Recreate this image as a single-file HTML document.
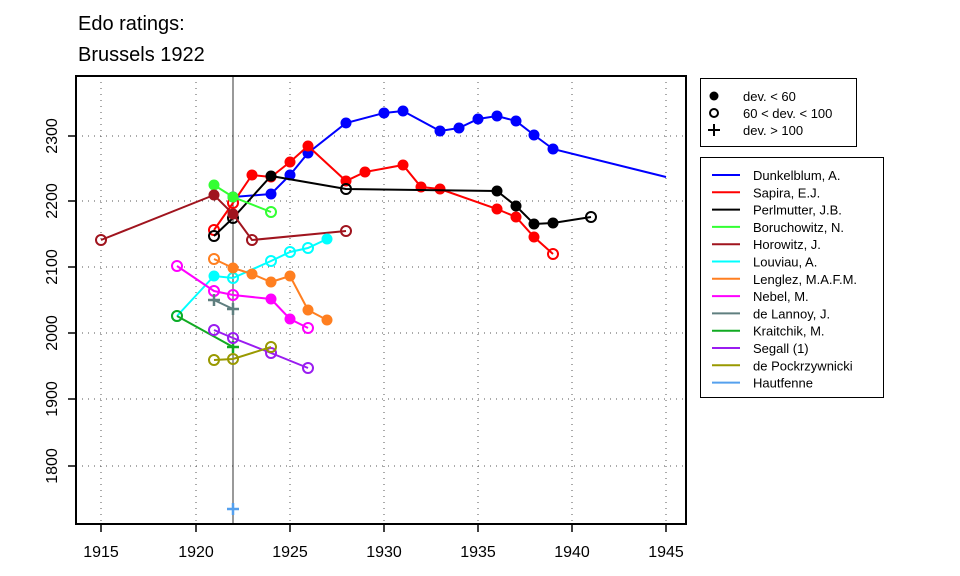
<!DOCTYPE html>
<html><head><meta charset="utf-8"><style>
body{margin:0;background:#fff}
svg{display:block;font-family:"Liberation Sans",Arial,sans-serif}
</style></head><body>
<svg id="s" width="960" height="576" viewBox="0 0 960 576" xmlns="http://www.w3.org/2000/svg">
<rect width="960" height="576" fill="#fff"/>
<text x="78" y="30" font-size="20">Edo ratings:</text>
<text x="78" y="61" font-size="20">Brussels 1922</text>
<g stroke="#555" stroke-width="1" stroke-dasharray="1,5">
<line x1="101" y1="76" x2="101" y2="524"/><line x1="196" y1="76" x2="196" y2="524"/><line x1="290" y1="76" x2="290" y2="524"/><line x1="384" y1="76" x2="384" y2="524"/><line x1="478" y1="76" x2="478" y2="524"/><line x1="572" y1="76" x2="572" y2="524"/><line x1="666" y1="76" x2="666" y2="524"/>
<line x1="76" y1="136" x2="686" y2="136"/><line x1="76" y1="201" x2="686" y2="201"/><line x1="76" y1="267" x2="686" y2="267"/><line x1="76" y1="333" x2="686" y2="333"/><line x1="76" y1="399" x2="686" y2="399"/><line x1="76" y1="466" x2="686" y2="466"/>
</g>
<line x1="233" y1="76" x2="233" y2="524" stroke="#333" stroke-width="1"/>
<g id="series" stroke-width="2" fill="none"></g>
<rect x="76" y="76" width="610" height="448" fill="none" stroke="#000" stroke-width="2"/>
<g stroke="#000" stroke-width="1.5">
<line x1="101" y1="524" x2="101" y2="532"/><line x1="196" y1="524" x2="196" y2="532"/><line x1="290" y1="524" x2="290" y2="532"/><line x1="384" y1="524" x2="384" y2="532"/><line x1="478" y1="524" x2="478" y2="532"/><line x1="572" y1="524" x2="572" y2="532"/><line x1="666" y1="524" x2="666" y2="532"/>
<line x1="68" y1="136" x2="76" y2="136"/><line x1="68" y1="201" x2="76" y2="201"/><line x1="68" y1="267" x2="76" y2="267"/><line x1="68" y1="333" x2="76" y2="333"/><line x1="68" y1="399" x2="76" y2="399"/><line x1="68" y1="466" x2="76" y2="466"/>
</g>
<g font-size="16" text-anchor="middle">
<text x="101" y="557">1915</text><text x="196" y="557">1920</text><text x="290" y="557">1925</text><text x="384" y="557">1930</text><text x="478" y="557">1935</text><text x="572" y="557">1940</text><text x="666" y="557">1945</text>
<text transform="translate(57,136) rotate(-90)">2300</text>
<text transform="translate(57,201) rotate(-90)">2200</text>
<text transform="translate(57,267) rotate(-90)">2100</text>
<text transform="translate(57,333) rotate(-90)">2000</text>
<text transform="translate(57,399) rotate(-90)">1900</text>
<text transform="translate(57,466) rotate(-90)">1800</text>
</g>
<rect x="700.5" y="78.5" width="156" height="68" fill="#fff" stroke="#000"/>
<circle cx="714" cy="96" r="4.5" fill="#000"/>
<circle cx="714" cy="113" r="4" fill="none" stroke="#000" stroke-width="2"/>
<path d="M708 130h12M714 124v12" stroke="#000" stroke-width="2"/>
<g font-size="13"><text x="743" y="101">dev. &lt; 60</text><text x="743" y="118">60 &lt; dev. &lt; 100</text><text x="743" y="135">dev. &gt; 100</text></g>
<rect x="700.5" y="157.5" width="183" height="240" fill="#fff" stroke="#000"/>
<g stroke-width="2">
<line x1="712" x2="740" y1="175" y2="175" stroke="#0000ff"/>
<line x1="712" x2="740" y1="192.3" y2="192.3" stroke="#ff0000"/>
<line x1="712" x2="740" y1="209.6" y2="209.6" stroke="#000"/>
<line x1="712" x2="740" y1="226.9" y2="226.9" stroke="#33ff33"/>
<line x1="712" x2="740" y1="244.2" y2="244.2" stroke="#a0141e"/>
<line x1="712" x2="740" y1="261.5" y2="261.5" stroke="#00ffff"/>
<line x1="712" x2="740" y1="278.8" y2="278.8" stroke="#ff7f20"/>
<line x1="712" x2="740" y1="296.1" y2="296.1" stroke="#ff00ff"/>
<line x1="712" x2="740" y1="313.4" y2="313.4" stroke="#5f7f7f"/>
<line x1="712" x2="740" y1="330.7" y2="330.7" stroke="#11aa22"/>
<line x1="712" x2="740" y1="348" y2="348" stroke="#9a1cf0"/>
<line x1="712" x2="740" y1="365.3" y2="365.3" stroke="#999900"/>
<line x1="712" x2="740" y1="382.6" y2="382.6" stroke="#55a0ee"/>
</g>
<g font-size="13">
<text x="753" y="180">Dunkelblum, A.</text>
<text x="753" y="197.3">Sapira, E.J.</text>
<text x="753" y="214.6">Perlmutter, J.B.</text>
<text x="753" y="231.9">Boruchowitz, N.</text>
<text x="753" y="249.2">Horowitz, J.</text>
<text x="753" y="266.5">Louviau, A.</text>
<text x="753" y="283.8">Lenglez, M.A.F.M.</text>
<text x="753" y="301.1">Nebel, M.</text>
<text x="753" y="318.4">de Lannoy, J.</text>
<text x="753" y="335.7">Kraitchik, M.</text>
<text x="753" y="353">Segall (1)</text>
<text x="753" y="370.3">de Pockrzywnicki</text>
<text x="753" y="387.6">Hautfenne</text>
</g>
</svg>
<script>
var S=[
["#0000ff",[[233,197,'f'],[271,194,'f'],[290,175,'f'],[308,153,'f'],[346,123,'f'],[384,113,'f'],[403,111,'f'],[440,131,'f'],[459,128,'f'],[478,119,'f'],[497,116,'f'],[516,121,'f'],[534,135,'f'],[553,149,'f'],[666,177,'n']]],
["#ff0000",[[214,230,'o'],[233,203,'o'],[252,175,'f'],[271,177,'f'],[290,162,'f'],[308,146,'f'],[346,181,'f'],[365,172,'f'],[403,165,'f'],[421,187,'f'],[440,189,'f'],[497,209,'f'],[516,217,'f'],[534,237,'f'],[553,254,'o']]],
["#000000",[[214,236,'o'],[233,218,'o'],[271,176,'f'],[346,189,'o'],[497,191,'f'],[516,206,'f'],[534,224,'f'],[553,223,'f'],[591,217,'o']]],
["#33ff33",[[214,185,'f'],[233,197,'f'],[271,212,'o']]],
["#a0141e",[[101,240,'o'],[214,195,'f'],[233,214,'f'],[252,240,'o'],[346,231,'o']]],
["#00ffff",[[177,316,'o'],[214,276,'f'],[233,278,'o'],[271,261,'o'],[290,252,'o'],[308,248,'o'],[327,239,'f']]],
["#ff7f20",[[214,259,'o'],[233,268,'f'],[252,274,'f'],[271,282,'f'],[290,276,'f'],[308,310,'f'],[327,320,'f']]],
["#ff00ff",[[177,266,'o'],[214,291,'o'],[233,295,'o'],[271,299,'f'],[290,319,'f'],[308,328,'o']]],
["#5f7f7f",[[214,300,'p'],[233,309,'p']]],
["#11aa22",[[177,316,'o'],[233,347,'p']]],
["#9a1cf0",[[214,330,'o'],[233,338,'o'],[271,353,'o'],[308,368,'o']]],
["#999900",[[214,360,'o'],[233,359,'o'],[271,347,'o']]],
["#55a0ee",[[233,509,'p']]]
];
var g=document.getElementById('series'),h='';
S.forEach(function(s){var c=s[0],p=s[1];
if(p.length>1)h+='<polyline stroke="'+c+'" points="'+p.map(function(q){return q[0]+','+q[1]}).join(' ')+'"/>';
p.forEach(function(q){if(q[2]=='f')h+='<circle cx="'+q[0]+'" cy="'+q[1]+'" r="5.5" fill="'+c+'"/>';
else if(q[2]=='o')h+='<circle cx="'+q[0]+'" cy="'+q[1]+'" r="5" fill="none" stroke="'+c+'"/>';
else if(q[2]=='p')h+='<path d="M'+(q[0]-6)+' '+q[1]+'h12M'+q[0]+' '+(q[1]-6)+'v12" stroke="'+c+'" stroke-width="2.5"/>';});
});
g.innerHTML=h;
</script>
</body></html>
